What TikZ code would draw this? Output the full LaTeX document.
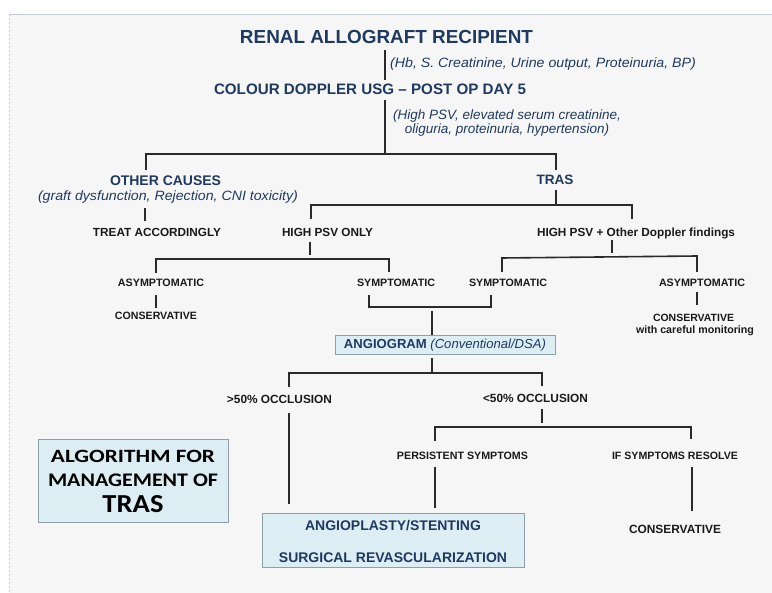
\documentclass[tikz,border=0pt]{standalone}
\usepackage{fontspec}
\usepackage{graphicx}
\setmainfont{Liberation Sans}
\newfontfamily\calib{Carlito}
\definecolor{navy}{HTML}{1F3A60}
\definecolor{ink}{HTML}{1A1A1A}
\definecolor{linec}{HTML}{2A2A2A}
\definecolor{boxf}{HTML}{DCEEF4}
\definecolor{boxb}{HTML}{8DA0AA}
\definecolor{panel}{HTML}{F6F6F6}
\definecolor{edgec}{HTML}{C3CCD5}
\newcommand\fitw[2]{\resizebox{#1}{!}{#2}}
\newcommand\fitwh[3]{\resizebox{#1}{#2}{#3}}
\newcommand\xsc[2]{\scalebox{#1}[1]{#2}}
\begin{document}
\begin{tikzpicture}[x=1pt,y=-1pt,
  lbl/.style={anchor=base, inner sep=0pt, text=ink, font=\bfseries\fontsize{11}{13}\selectfont},
  nv/.style={anchor=base, inner sep=0pt, text=navy, font=\bfseries\fontsize{14}{16}\selectfont},
  nvi/.style={anchor=base, inner sep=0pt, text=navy, font=\itshape\fontsize{13.5}{14}\selectfont},
  conn/.style={draw=linec, line width=1.6pt},
  box/.style={draw=boxb, fill=boxf, line width=1pt}]
\useasboundingbox (0,0) rectangle (772,593);
\fill[white] (0,0) rectangle (772,593);
\fill[panel] (9,14) rectangle (772,593);
\draw[edgec, line width=0.8pt] (9,14) -- (772,14);
\draw[edgec, line width=0.8pt, dash pattern=on 2pt off 2pt] (9,14) -- (9,593);

% ---- texts ----
\node[nv, font=\bfseries\fontsize{18.5}{20}\selectfont] (renal) at (386.5,43.3) {\fitw{293pt}{RENAL ALLOGRAFT RECIPIENT}};
\node[nvi, anchor=base west] (hb) at (390,68) {\xsc{1.05}{(Hb, S. Creatinine, Urine output, Proteinuria, BP)}};
\node[nv, font=\bfseries\fontsize{16}{18}\selectfont] (doppler) at (370,95) {\fitw{312pt}{COLOUR DOPPLER USG – POST OP DAY 5}};
\node[nvi, anchor=north, align=center] (findings) at (507,109.7) {(High PSV, elevated serum creatinine,\\ oliguria, proteinuria, hypertension)};

\node[nv] (other) at (165.5,186) {\fitw{111pt}{OTHER CAUSES}};
\node[nvi] (graft) at (168,200.5) {\xsc{1.05}{(graft dysfunction, Rejection, CNI toxicity)}};
\node[nv] (tras) at (555,185) {\fitw{37pt}{TRAS}};

\node[lbl] (treat) at (157,237) {\fitw{128pt}{TREAT ACCORDINGLY}};
\node[lbl] (hpsvonly) at (327.5,237) {\fitw{91pt}{HIGH PSV ONLY}};
\node[lbl] (hpsvplus) at (636,237) {\fitw{198pt}{HIGH PSV + Other Doppler findings}};
\node[lbl] (asym1) at (161,287) {\fitw{86pt}{ASYMPTOMATIC}};
\node[lbl] (sym1) at (396,287) {\fitw{78pt}{SYMPTOMATIC}};
\node[lbl] (sym2) at (508,287) {\fitw{78pt}{SYMPTOMATIC}};
\node[lbl] (asym2) at (702,287) {\fitw{86pt}{ASYMPTOMATIC}};
\node[lbl] (cons1) at (156,320) {\fitw{82pt}{CONSERVATIVE}};
\node[lbl] (cons2) at (693.5,322) {\fitw{81pt}{CONSERVATIVE}};
\node[lbl] (monit) at (695,333.5) {\fitw{118pt}{with careful monitoring}};

\node[box, minimum width=220pt, minimum height=19pt, inner sep=0pt, text=navy] (angio) at (445,345.5)
  {\fitw{202pt}{\fontsize{12.5}{14}\selectfont\textbf{ANGIOGRAM} \textit{(Conventional/DSA)}}};

\node[lbl] (gt50) at (279.5,404) {\fitw{105pt}{>50\% OCCLUSION}};
\node[lbl] (lt50) at (535.5,402.5) {\fitw{105pt}{<50\% OCCLUSION}};
\node[lbl] (persist) at (462.5,460) {\fitw{131pt}{PERSISTENT SYMPTOMS}};
\node[lbl] (resolve) at (675,460) {\fitw{126pt}{IF SYMPTOMS RESOLVE}};
\node[lbl] (cons3) at (675,533.5) {\fitw{92pt}{CONSERVATIVE}};

\node[box, minimum width=262pt, minimum height=54pt, inner sep=0pt, align=center, text=navy,
  font=\bfseries\fontsize{14}{32}\selectfont] (stent) at (393,541)
  {ANGIOPLASTY/STENTING\\SURGICAL REVASCULARIZATION};

\node[box, minimum width=190pt, minimum height=83pt, inner sep=0pt, align=center, text=black,
  font=\calib\bfseries\fontsize{12}{24}\selectfont] (algo) at (133,481.5)
  {\fitwh{164pt}{12.3pt}{ALGORITHM FOR}\\\fitwh{170pt}{12.6pt}{MANAGEMENT OF}\\[2pt]\fitwh{61pt}{17pt}{TRAS}};

% ---- connectors ----
\coordinate (s1t) at (385,50);  \coordinate (s1b) at (385,80);
\coordinate (s2t) at (385,100); \coordinate (s2b) at (385,154);
\coordinate (b1l) at (146,170); \coordinate (b1lc) at (146,154);
\coordinate (b1rc) at (556,154); \coordinate (b1r) at (556,170);
\coordinate (s3t) at (145,208); \coordinate (s3b) at (145,221);
\coordinate (s4t) at (556,190); \coordinate (s4b) at (556,205);
\coordinate (b2l) at (311,219); \coordinate (b2lc) at (311,205);
\coordinate (b2rc) at (632,205); \coordinate (b2r) at (632,219);
\coordinate (s5t) at (310,242); \coordinate (s5b) at (310,255);
\coordinate (b3l) at (156,273); \coordinate (b3lc) at (156,259);
\coordinate (b3rc) at (389,259); \coordinate (b3r) at (389,272);
\coordinate (s6t) at (612,240); \coordinate (s6b) at (612,253);
\coordinate (b4l) at (502,272); \coordinate (b4lc) at (502,258);
\coordinate (b4rc) at (697,256); \coordinate (b4r) at (697,272);
\coordinate (s7t) at (156,295); \coordinate (s7b) at (156,308);
\coordinate (s8t) at (697,292); \coordinate (s8b) at (697,305);
\coordinate (b5l) at (369,295); \coordinate (b5lc) at (369,307);
\coordinate (b5rc) at (491,307); \coordinate (b5r) at (491,295);
\coordinate (s9t) at (432,311);
\coordinate (s10t) at (432,358); \coordinate (s10b) at (432,372);
\coordinate (b6l) at (289,387); \coordinate (b6lc) at (289,373);
\coordinate (b6rc) at (542,373); \coordinate (b6r) at (542,386);
\coordinate (s11t) at (289,413); \coordinate (s11b) at (289,504);
\coordinate (s12t) at (542,409); \coordinate (s12b) at (542,423);
\coordinate (b7l) at (435,441); \coordinate (b7lc) at (435,427);
\coordinate (b7rc) at (691,427); \coordinate (b7r) at (691,439);
\coordinate (s13t) at (435,467); \coordinate (s13b) at (435,508);
\coordinate (s14t) at (692,467); \coordinate (s14b) at (692,511);

\draw[conn] (s1t) -- (s1b);
\draw[conn] (s2t) -- (s2b);
\draw[conn] (b1l) -- (b1lc) -- (b1rc) -- (b1r);
\draw[conn] (s3t) -- (s3b);
\draw[conn] (s4t) -- (s4b);
\draw[conn] (b2l) -- (b2lc) -- (b2rc) -- (b2r);
\draw[conn] (s5t) -- (s5b);
\draw[conn] (b3l) -- (b3lc) -- (b3rc) -- (b3r);
\draw[conn] (s6t) -- (s6b);
\draw[conn] (b4l) -- (b4lc) -- (b4rc) -- (b4r);
\draw[conn] (s7t) -- (s7b);
\draw[conn] (s8t) -- (s8b);
\draw[conn] (b5l) -- (b5lc) -- (b5rc) -- (b5r);
\draw[conn] (s9t) -- (s9t |- angio.north);
\draw[conn] (s10t) -- (s10b);
\draw[conn] (b6l) -- (b6lc) -- (b6rc) -- (b6r);
\draw[conn] (s11t) -- (s11b);
\draw[conn] (s12t) -- (s12b);
\draw[conn] (b7l) -- (b7lc) -- (b7rc) -- (b7r);
\draw[conn] (s13t) -- (s13b);
\draw[conn] (s14t) -- (s14b);
\end{tikzpicture}
\end{document}
